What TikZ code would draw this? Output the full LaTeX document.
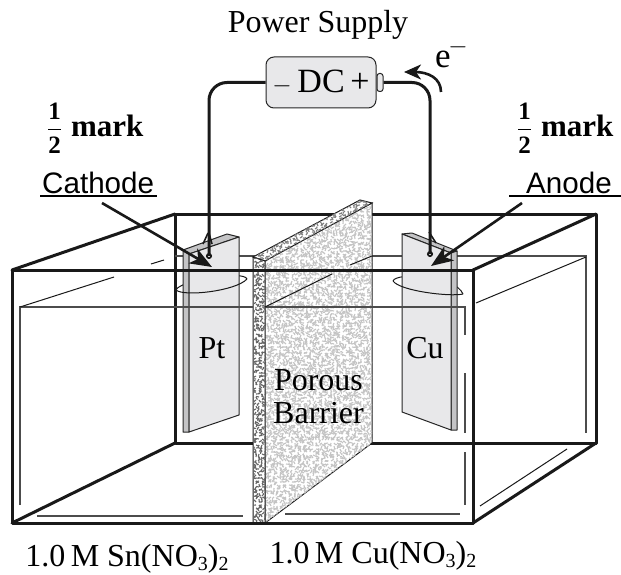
\documentclass[tikz,border=0pt]{standalone}
\usepackage{amsmath,amssymb}
\usepackage{fontspec}
\setmainfont{Liberation Serif}
\setsansfont{Liberation Sans}
\usetikzlibrary{arrows.meta}
\definecolor{platefill}{HTML}{E8E8EA}
\definecolor{plateside}{HTML}{C4C4C6}
\newcommand{\lowidx}[1]{\raisebox{-4pt}{\fontsize{20}{20}\selectfont #1}}
\newcommand{\underrule}[2]{\rlap{\rule[-4.5pt]{#1}{2.2pt}}#2}
\newcommand{\halfmark}{{\fontsize{25}{27}\selectfont\(\dfrac{\text{1}}{\text{2}}\)}\hspace{9pt}mark}
\tikzset{
  tank/.style={line width=3pt,black!90,line cap=round,line join=round},
  water/.style={line width=1.5pt,black!70},
  thinline/.style={line width=1pt,black!90},
  plate/.style={draw=black!85,line width=1pt,fill=platefill,line join=round},
  plateedge/.style={plate,fill=plateside},
  wire/.style={line width=3pt,black!90,rounded corners=18pt},
  hook/.style={line width=1.6pt,black!90},
  pointer/.style={line width=2.6pt,black!90,-{Stealth[length=22pt,width=17pt,inset=6pt]}},
  speck/.style={line width=1.1pt,black!23},
  speckdark/.style={line width=1.1pt,black!60},
  serif/.style={font=\fontsize{32}{33.5}\selectfont,inner sep=0pt},
  sans/.style={font=\sffamily\fontsize{29.6}{32}\selectfont,inner sep=0pt},
  marktext/.style={font=\bfseries\fontsize{31}{34}\selectfont,inner sep=0pt}
}
\begin{document}
\begin{tikzpicture}[x=1pt,y=-1pt]
\path[use as bounding box] (0,0) rectangle (621,575);
% back of the tank
\draw[tank] (175,214)--(596,214)--(596,443)--(175,443)--cycle;
\draw[water] (175,256)--(586,256)--(586,433);
\draw[thinline] (586,257)--(476,303);
% rings behind the plates
\draw[thinline] (247,279) .. controls (244,270) and (180,280) .. (176,290);
\draw[thinline] (393,281) .. controls (396,272) and (455,275) .. (463,294);
% left plate
\draw[plateedge] (183,250)--(227,234)--(239,237)--(189,254)--cycle;
\draw[plateedge] (183,250)--(189,254)--(189,432)--(183,432)--cycle;
\draw[plate] (189,254)--(239,237)--(239,415)--(189,432)--cycle;
% right plate
\draw[plateedge] (402,234)--(412,233)--(457,251)--(451,253)--cycle;
\draw[plateedge] (451,253)--(457,251)--(457,430)--(451,430)--cycle;
\draw[plate] (402,234)--(451,253)--(451,430)--(402,412)--cycle;
% barrier
\draw[thinline,fill=white] (264,260)--(372,203)--(372,443)--(265,523)--cycle;
\pgfmathsetseed{11}
\begin{scope}
\clip (264,260)--(372,203)--(372,443)--(265,523)--cycle;
\foreach \x in {262,265,...,372} \foreach \y in {200,203,...,525} {
  \pgfmathsetmacro\ang{rand*180}
  \pgfmathsetmacro\bend{\ang+90+rand*60}
  \draw[speck] (\x,\y) .. controls +(\ang:2.5) and +(\bend:2.5) .. +(\ang:3.2);
}
\end{scope}
\draw[thinline,fill=white] (253,257)--(360,200)--(372,203)--(265,261)--cycle;
\begin{scope}
\clip (253,257)--(360,200)--(372,203)--(265,261)--cycle;
\foreach \x in {252,255,...,372} \foreach \y in {199,202,...,262} {
  \pgfmathsetmacro\ang{rand*180}
  \draw[speck,black!50] (\x,\y) .. controls +(\ang:2) and +(\ang+90:2) .. +(\ang:3);
}
\end{scope}
\draw[thinline,fill=white] (253,257)--(265,261)--(265,523)--(253,523)--cycle;
\begin{scope}
\clip (253,257)--(265,261)--(265,523)--(253,523)--cycle;
\foreach \y in {256,259,...,524} \foreach \x in {253,256,...,265} {
  \pgfmathsetmacro\ang{rand*180}
  \draw[speckdark] (\x,\y) .. controls +(\ang:2) and +(\ang+90:2) .. +(\ang:3);
}
\end{scope}
% waterline and glass on the front
\draw[water] (20,505)--(20,307)--(253,307) (265,307)--(465,307)--(465,335)
  (465,373)--(465,433) (465,452)--(465,505);
\draw[water] (37,516)--(243,516) (285,514)--(460,514);
\draw[thinline] (20,307)--(114,277) (151,264)--(164,260)
  (265,307)--(332,274) (350,265)--(372,256) (480,506)--(567,449);
% front rings
\draw[thinline] (176,290) .. controls (184,297) and (236,291) .. (247,279);
\draw[thinline] (393,281) .. controls (400,291) and (450,297) .. (463,294);
% tank outline
\draw[tank] (12,270)--(473,270)--(473,523)--(12,523)--cycle;
\draw[tank] (12,270)--(175,214) (12,523)--(175,443)
  (473,270)--(596,214) (473,523)--(596,443);
% supply
\node[draw=black!85,line width=1pt,fill=platefill,rounded corners=8pt,minimum width=110pt,minimum height=51pt,serif,font=\fontsize{34}{36}\selectfont] (dcbox) at (321,82.5) {\(-\)\,DC\,+};
\node[draw=black!85,line width=1pt,fill=platefill,rounded corners=2.5pt,minimum width=6pt,minimum height=18pt,inner sep=0pt,anchor=west] (dcnub) at (dcbox.east) {};
\coordinate (pthole) at (209,256);
\coordinate (cuhole) at (430,254);
\draw[wire] (dcbox.west) -| (pthole);
\draw[wire] (dcnub.east) -| (cuhole);
\draw[hook] (pthole) circle (2.2pt) (cuhole) circle (2.2pt);
\draw[hook] (208,233)--(203,244) (209,233)--(212,244);
\draw[hook] (429,232)--(436,243);
\coordinate (eleft) at (441,92);
\coordinate (etip) at (404,72);
\draw[line width=2.6pt,black!90,-{Stealth[length=17pt,width=15pt,inset=5pt]}] (eleft) .. controls (441,78) and (428,72) .. (etip);
% text
\node[serif,anchor=base] (supply) at (318,33) {Power Supply};
\node[serif,font=\fontsize{35}{36}\selectfont,anchor=base] (elec) at (443,68) {e};
\node[serif,font=\fontsize{24}{26}\selectfont] (eminus) at (458,47) {\(-\)};
\node[marktext,anchor=base west] (markl) at (47,136) {\halfmark};
\node[marktext,anchor=base west] (markr) at (517,136) {\halfmark};
\node[sans,anchor=base west] (cathode) at (40,193) {\underrule{117pt}{\hspace{2pt}Cathode}};
\node[sans,anchor=base west] (anode) at (509,193) {\underrule{112pt}{\hspace{17pt}Anode}};
\coordinate (cathodefoot) at (102,203);
\coordinate (anodefoot) at (522,203);
\coordinate (cathodetip) at (212,267);
\coordinate (anodetip) at (431,266);
\draw[pointer] (cathodefoot)--(cathodetip);
\draw[pointer] (anodefoot)--(anodetip);
\node[serif,anchor=base] (pt) at (212,358) {Pt};
\node[serif,anchor=base] (cu) at (425,358) {Cu};
\node[serif,anchor=base] (porous) at (318.5,390) {Porous};
\node[serif,anchor=base] (barrier) at (318.5,423) {Barrier};
\node[serif,anchor=base] (sn) at (127,566) {1.0\,M Sn(NO\lowidx{3})\lowidx{2}};
\node[serif,anchor=base] (cusol) at (373,563) {1.0\,M Cu(NO\lowidx{3})\lowidx{2}};
\end{tikzpicture}
\end{document}
